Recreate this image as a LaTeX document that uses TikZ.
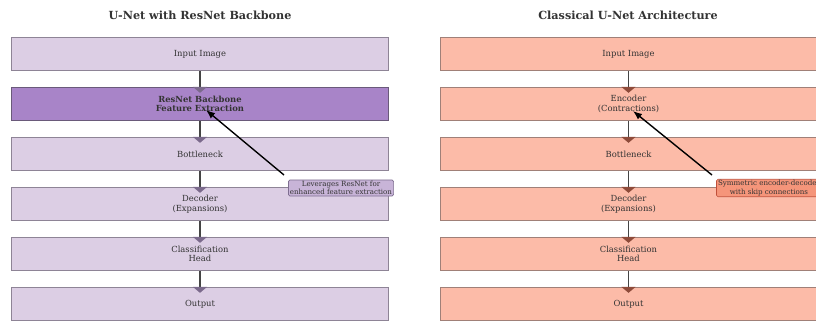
\documentclass[tikz,border=0pt]{standalone}
\usepackage{fontspec}
\setmainfont{DejaVu Serif}
\usetikzlibrary{arrows.meta}
\definecolor{lavbox}{HTML}{DCCEE4}
\definecolor{lavedge}{HTML}{8E8496}
\definecolor{resbox}{HTML}{A884C8}
\definecolor{resedge}{HTML}{6A5A7A}
\definecolor{lavhead}{HTML}{7B6A8C}
\definecolor{salbox}{HTML}{FCBBA8}
\definecolor{saledge}{HTML}{A08078}
\definecolor{salhead}{HTML}{8E4B3A}
\definecolor{lavnote}{HTML}{C8B4D8}
\definecolor{lavnoteedge}{HTML}{7E6E90}
\definecolor{salnote}{HTML}{F5957A}
\definecolor{salnoteedge}{HTML}{C0503A}
\definecolor{txt}{HTML}{333333}
\definecolor{shaft}{HTML}{444444}
\tikzset{
  stage/.style={draw, line width=0.8pt, minimum width=377pt, minimum height=33.5pt,
    inner sep=0pt, align=center, text=txt, font=\fontsize{8.4}{9.4}\selectfont},
  lstage/.style={stage, fill=lavbox, draw=lavedge},
  rstage/.style={stage, fill=salbox, draw=saledge},
  titletext/.style={font=\fontsize{11.2}{13}\selectfont\bfseries, text=txt},
  flow/.style={draw=shaft, line width=1.2pt, shorten >=-6pt},
  lflow/.style={flow, -{Triangle[width=14pt,length=6pt,color=lavhead,fill=lavhead]}},
  rflow/.style={flow, -{Triangle[width=14pt,length=6pt,color=salhead,fill=salhead]}},
  note/.style={draw, line width=0.6pt, rounded corners=1.5pt, align=center, text=txt,
    font=\fontsize{7.1}{8.2}\selectfont, inner xsep=1.5pt, inner ysep=1.2pt},
  pointer/.style={draw=black, line width=1.4pt, -{Latex[length=9pt,width=7pt]}}
}
\begin{document}
\begin{tikzpicture}[x=1pt,y=-1pt]
\useasboundingbox (0,0) rectangle (816,321);
% titles
\node[titletext] (tl) at (200,15) {U-Net with ResNet Backbone};
\node[titletext] (tr) at (628,15) {Classical U-Net Architecture};
% left column
\node[lstage] (l1) at (200,54) {Input Image};
\node[lstage, fill=resbox, draw=resedge, font=\fontsize{8.4}{9.4}\selectfont\bfseries] (l2) at (200,104) {ResNet Backbone\\Feature Extraction};
\node[lstage] (l3) at (200,154) {Bottleneck};
\node[lstage] (l4) at (200,204) {Decoder\\(Expansions)};
\node[lstage] (l5) at (200,254) {Classification\\Head};
\node[lstage] (l6) at (200,304) {Output};
% right column
\node[rstage] (r1) at (628.5,54) {Input Image};
\node[rstage] (r2) at (628.5,104) {Encoder\\(Contractions)};
\node[rstage] (r3) at (628.5,154) {Bottleneck};
\node[rstage] (r4) at (628.5,204) {Decoder\\(Expansions)};
\node[rstage] (r5) at (628.5,254) {Classification\\Head};
\node[rstage] (r6) at (628.5,304) {Output};
% flows
\foreach \a/\b in {1/2,2/3,3/4,4/5,5/6}{
  \draw[lflow] (l\a.south) -- (l\b.north);
  \draw[rflow] (r\a.south) -- (r\b.north);
}
% notes
\node[note, fill=lavnote, draw=lavnoteedge] (nl) at (341,188) {Leverages ResNet for\\enhanced feature extraction};
\node[note, fill=salnote, draw=salnoteedge] (nr) at (769,188) {Symmetric encoder-decoder\\with skip connections};
\coordinate (tipl) at (206,110);
\coordinate (tipr) at (633,111);
\coordinate (startl) at (284,175);
\coordinate (startr) at (712,175);
\draw[pointer] (startl) -- (tipl);
\draw[pointer] (startr) -- (tipr);
\end{tikzpicture}
\end{document}
